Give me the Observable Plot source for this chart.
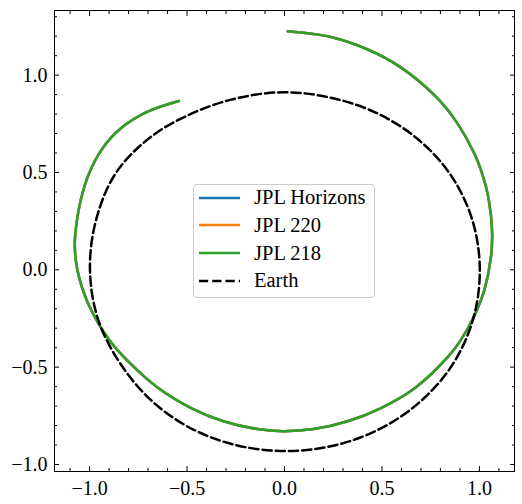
<!DOCTYPE html>
<html>
<head>
<meta charset="utf-8">
<script src="https://cdn.jsdelivr.net/npm/d3@7"></script>
<script src="https://cdn.jsdelivr.net/npm/@observablehq/plot@0.6"></script>
<style>
  body { margin: 0; background: #fff; }
  #wrap { position: relative; width: 522px; height: 504px; }
  .legend {
    position: absolute; left: 193px; top: 184px; width: 180px; height: 112px;
    border: 1px solid #cccccc; border-radius: 4px; background: rgba(255,255,255,0.8);
    font-family: "Liberation Serif", serif; font-size: 20.5px; color: #000;
  }
  .legend .row { position: absolute; left: 0; height: 24px; display: flex; align-items: center; white-space: nowrap; }
  .legend svg { margin-left: 5px; margin-right: 13px; }
</style>
</head>
<body>
<div id="wrap"></div>
<script>
// Heliocentric track of the object (AU); the three ephemerides coincide at this scale
const trackPoints = [
  [0.017, 1.225], [0.237, 1.196], [0.424, 1.133], [0.589, 1.045], [0.782, 0.884],
  [0.888, 0.751], [0.974, 0.597], [1.020, 0.475], [1.046, 0.372], [1.065, 0.201],
  [1.059, 0.065], [1.025, -0.106], [0.978, -0.228], [0.901, -0.366], [0.836, -0.450],
  [0.668, -0.608], [0.495, -0.710], [0.324, -0.778], [0.150, -0.818], [-0.010, -0.829],
  [-0.140, -0.818], [-0.313, -0.778], [-0.479, -0.710], [-0.653, -0.603], [-0.790, -0.482],
  [-0.899, -0.360], [-1.007, -0.174], [-1.062, -0.004], [-1.076, 0.130], [-1.066, 0.246],
  [-1.046, 0.356], [-1.005, 0.490], [-0.934, 0.623], [-0.838, 0.728], [-0.705, 0.811],
  [-0.542, 0.867]
];

// Earth's orbit (AU), closed loop
const earthPoints = [
  [0.000, 0.912], [0.237, 0.884], [0.467, 0.808], [0.677, 0.677], [0.850, 0.491],
  [0.963, 0.258], [1.002, 0.000], [0.966, -0.259], [0.857, -0.495], [0.686, -0.686],
  [0.476, -0.824], [0.243, -0.905], [0.000, -0.931], [-0.242, -0.902], [-0.473, -0.818],
  [-0.677, -0.677], [-0.840, -0.485], [-0.956, -0.256], [-0.998, 0.000], [-0.966, 0.259],
  [-0.864, 0.499], [-0.684, 0.684], [-0.466, 0.807], [-0.237, 0.883]
];

const seriesNames = ["JPL Horizons", "JPL 220", "JPL 218"];
const seriesColors = ["#1f77b4", "#ff7f0e", "#2ca02c"];
const earthName = "Earth";

const xMajor = [-1.0, -0.5, 0.0, 0.5, 1.0];
const yMajor = [-1.0, -0.5, 0.0, 0.5, 1.0];
const xMinor = [-1.1, -0.9, -0.8, -0.7, -0.6, -0.4, -0.3, -0.2, -0.1, 0.1, 0.2, 0.3, 0.4, 0.6, 0.7, 0.8, 0.9, 1.1];
const yMinor = [-0.9, -0.8, -0.7, -0.6, -0.4, -0.3, -0.2, -0.1, 0.1, 0.2, 0.3, 0.4, 0.6, 0.7, 0.8, 0.9, 1.1, 1.2, 1.3];

const fmt = d3.format(".1f");
const lineW = 2.5;
const dash = "9.25,4";
const majorLen = 5, minorLen = 3;

const chart = Plot.plot({
  width: 522,
  height: 504,
  marginLeft: 54,
  marginRight: 8,
  marginTop: 10,
  marginBottom: 33,
  x: {domain: [-1.18, 1.18]},
  y: {domain: [-1.036, 1.332]},
  style: {fontFamily: "Liberation Serif", fontSize: "20px", background: "white", color: "black"},
  marks: [
    ...seriesNames.map((name, i) =>
      Plot.line(trackPoints, {x: d => d[0], y: d => d[1], stroke: seriesColors[i], strokeWidth: lineW, curve: "catmull-rom"})
    ),
    Plot.line(earthPoints, {x: d => d[0], y: d => d[1], stroke: "black", strokeWidth: lineW, strokeDasharray: dash, curve: "catmull-rom-closed"}),
    Plot.frame({stroke: "black", strokeWidth: 1}),
    // inward ticks on all four sides
    Plot.axisX(xMajor, {anchor: "bottom", tickSize: majorLen, dy: -majorLen, fill: "none", stroke: "black"}),
    Plot.axisX(xMajor, {anchor: "top", tickSize: majorLen, dy: majorLen, fill: "none", stroke: "black"}),
    Plot.axisX(xMinor, {anchor: "bottom", tickSize: minorLen, dy: -minorLen, fill: "none", stroke: "black"}),
    Plot.axisX(xMinor, {anchor: "top", tickSize: minorLen, dy: minorLen, fill: "none", stroke: "black"}),
    Plot.axisY(yMajor, {anchor: "left", tickSize: majorLen, dx: majorLen, fill: "none", stroke: "black"}),
    Plot.axisY(yMajor, {anchor: "right", tickSize: majorLen, dx: -majorLen, fill: "none", stroke: "black"}),
    Plot.axisY(yMinor, {anchor: "left", tickSize: minorLen, dx: minorLen, fill: "none", stroke: "black"}),
    Plot.axisY(yMinor, {anchor: "right", tickSize: minorLen, dx: -minorLen, fill: "none", stroke: "black"}),
    // tick labels
    Plot.axisX(xMajor, {anchor: "bottom", tickSize: 0, tickPadding: 9, tickFormat: fmt, fill: "black"}),
    Plot.axisY(yMajor, {anchor: "left", tickSize: 0, tickPadding: 7, tickFormat: fmt, fill: "black"})
  ]
});

const wrap = document.getElementById("wrap");
wrap.appendChild(chart);

// legend inside the axes
const legend = document.createElement("div");
legend.className = "legend";
const entries = seriesNames.map((n, i) => ({name: n, color: seriesColors[i], dash: null}))
  .concat([{name: earthName, color: "black", dash: dash}]);
entries.forEach((e, i) => {
  const row = document.createElement("div");
  row.className = "row";
  row.style.top = (13.7 + 27.7 * i - 1 - 12) + "px";
  row.innerHTML =
    `<svg width="42" height="6"><line x1="0" x2="41" y1="3" y2="3" stroke="${e.color}" stroke-width="${lineW}"${e.dash ? ` stroke-dasharray="${e.dash}"` : ""}/></svg><span>${e.name}</span>`;
  legend.appendChild(row);
});
wrap.appendChild(legend);
</script>
</body>
</html>
